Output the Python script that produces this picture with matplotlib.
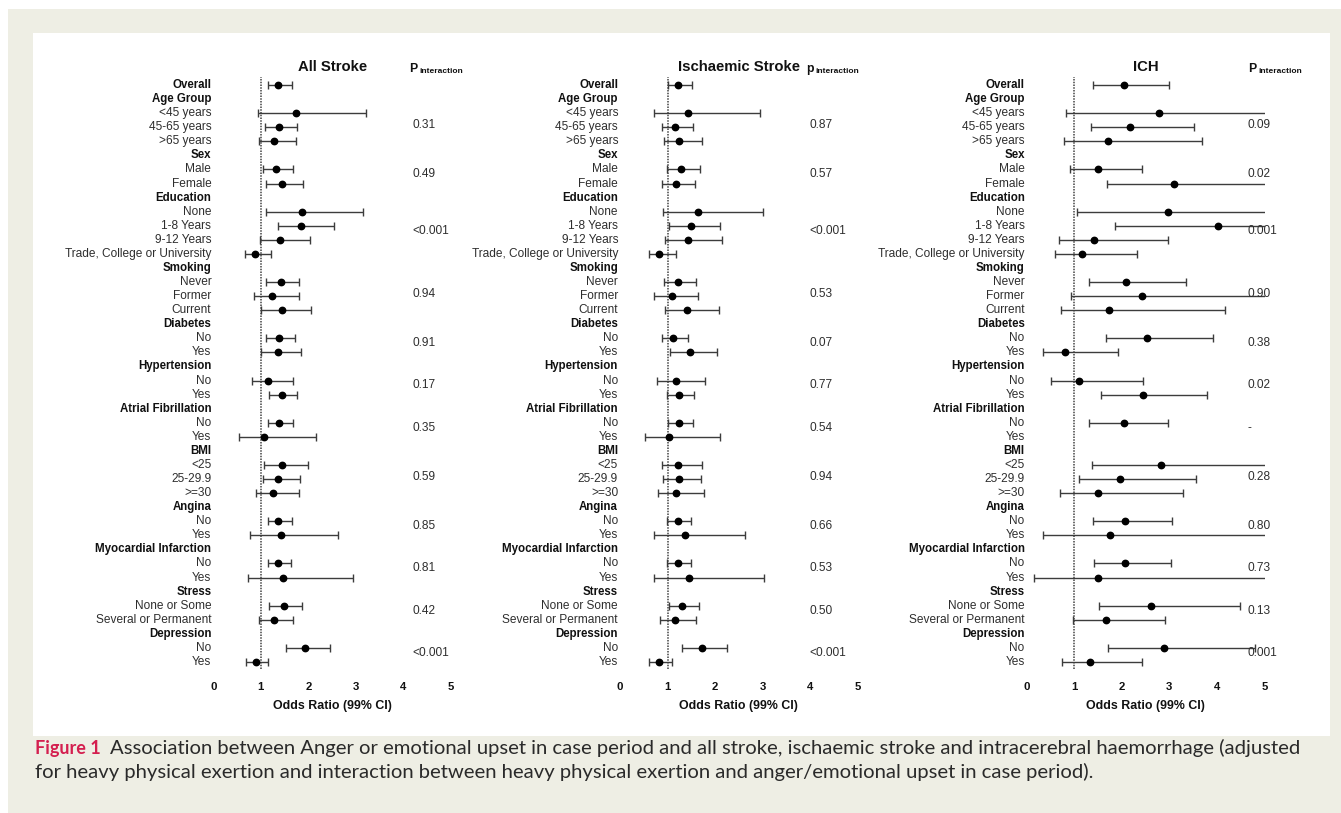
import numpy as np
import matplotlib
matplotlib.use("Agg")
import matplotlib.pyplot as plt
from matplotlib.patches import Rectangle
from matplotlib import transforms

nan = np.nan
inf = np.inf

# ---------------------------------------------------------------- data
row_labels = [
    "Overall",
    "Age Group", "<45 years", "45-65 years", ">65 years",
    "Sex", "Male", "Female",
    "Education", "None", "1-8 Years", "9-12 Years", "Trade, College or University",
    "Smoking", "Never", "Former", "Current",
    "Diabetes", "No", "Yes",
    "Hypertension", "No", "Yes",
    "Atrial Fibrillation", "No", "Yes",
    "BMI", "<25", "25-29.9", ">=30",
    "Angina", "No", "Yes",
    "Myocardial Infarction", "No", "Yes",
    "Stress", "None or Some", "Several or Permanent",
    "Depression", "No", "Yes",
]
bold_labels = ["Overall", "Age Group", "Sex", "Education", "Smoking", "Diabetes",
               "Hypertension", "Atrial Fibrillation", "BMI", "Angina",
               "Myocardial Infarction", "Stress", "Depression"]

panel_titles = ["All Stroke", "Ischaemic Stroke", "ICH"]
p_headers = ["P", "p", "P"]

# All stroke: odds ratio with 99% CI
all_or = [1.37, nan, 1.74, 1.38, 1.28, nan, 1.32, 1.45, nan, 1.87, 1.84, 1.41, 0.87,
          nan, 1.42, 1.23, 1.44, nan, 1.38, 1.36, nan, 1.16, 1.45, nan, 1.39, 1.06,
          nan, 1.45, 1.37, 1.25, nan, 1.37, 1.42, nan, 1.36, 1.47, nan, 1.48, 1.27,
          nan, 1.93, 0.90]
all_lo = [1.15, nan, 0.95, 1.09, 0.97, nan, 1.04, 1.10, nan, 1.10, 1.35, 0.99, 0.66,
          nan, 1.11, 0.85, 1.00, nan, 1.11, 1.01, nan, 0.82, 1.18, nan, 1.16, 0.54,
          nan, 1.07, 1.04, 0.89, nan, 1.15, 0.78, nan, 1.15, 0.73, nan, 1.18, 0.97,
          nan, 1.52, 0.68]
all_hi = [1.65, nan, 3.22, 1.76, 1.73, nan, 1.67, 1.89, nan, 3.15, 2.53, 2.04, 1.21,
          nan, 1.80, 1.80, 2.06, nan, 1.71, 1.85, nan, 1.67, 1.77, nan, 1.67, 2.15,
          nan, 1.99, 1.82, 1.80, nan, 1.65, 2.63, nan, 1.63, 2.94, nan, 1.86, 1.67,
          nan, 2.46, 1.16]

# Ischaemic stroke
isch_or = [1.23, nan, 1.44, 1.16, 1.25, nan, 1.28, 1.18, nan, 1.63, 1.49, 1.42, 0.83,
           nan, 1.21, 1.09, 1.40, nan, 1.11, 1.47, nan, 1.18, 1.24, nan, 1.24, 1.04,
           nan, 1.21, 1.24, 1.18, nan, 1.21, 1.37, nan, 1.21, 1.46, nan, 1.30, 1.16,
           nan, 1.72, 0.81]
isch_lo = [1.00, nan, 0.71, 0.89, 0.92, nan, 0.98, 0.89, nan, 0.90, 1.04, 0.95, 0.60,
           nan, 0.92, 0.72, 0.95, nan, 0.88, 1.06, nan, 0.78, 0.99, nan, 1.01, 0.53,
           nan, 0.88, 0.91, 0.80, nan, 0.99, 0.72, nan, 0.98, 0.71, nan, 1.02, 0.84,
           nan, 1.31, 0.60]
isch_hi = [1.51, nan, 2.94, 1.54, 1.72, nan, 1.69, 1.58, nan, 3.01, 2.11, 2.15, 1.18,
           nan, 1.60, 1.65, 2.08, nan, 1.42, 2.04, nan, 1.78, 1.56, nan, 1.53, 2.11,
           nan, 1.72, 1.70, 1.77, nan, 1.50, 2.63, nan, 1.49, 3.03, nan, 1.67, 1.60,
           nan, 2.25, 1.10]

# Intracerebral haemorrhage (inf = upper limit beyond the axis)
ich_or = [2.05, nan, 2.79, 2.18, 1.70, nan, 1.49, 3.09, nan, 2.98, 4.02, 1.41, 1.17,
          nan, 2.09, 2.42, 1.73, nan, 2.53, 0.80, nan, 1.11, 2.44, nan, 2.04, nan,
          nan, 2.82, 1.96, 1.50, nan, 2.07, 1.75, nan, 2.07, 1.50, nan, 2.62, 1.67,
          nan, 2.89, 1.34]
ich_lo = [1.40, nan, 0.82, 1.36, 0.78, nan, 0.91, 1.69, nan, 1.05, 1.85, 0.68, 0.60,
          nan, 1.31, 0.93, 0.73, nan, 1.66, 0.35, nan, 0.51, 1.57, nan, 1.31, nan,
          nan, 1.38, 1.10, 0.70, nan, 1.40, 0.35, nan, 1.41, 0.15, nan, 1.52, 0.98,
          nan, 1.71, 0.75]
ich_hi = [2.99, nan, inf, 3.51, 3.68, nan, 2.43, inf, nan, inf, inf, 2.98, 2.31,
          nan, 3.35, inf, 4.16, nan, 3.91, 1.91, nan, 2.45, 3.79, nan, 2.98, nan,
          nan, inf, 3.56, 3.28, nan, 3.05, inf, nan, 3.04, inf, nan, 4.49, 2.90,
          nan, 4.81, 2.43]

# p for interaction, one per grouping variable
p_all = ["0.31", "0.49", "<0.001", "0.94", "0.91", "0.17", "0.35", "0.59", "0.85",
         "0.81", "0.42", "<0.001"]
p_isch = ["0.87", "0.57", "<0.001", "0.53", "0.07", "0.77", "0.54", "0.94", "0.66",
          "0.53", "0.50", "<0.001"]
p_ich = ["0.09", "0.02", "0.001", "0.90", "0.38", "0.02", "-", "0.28", "0.80",
         "0.73", "0.13", "0.001"]

x_ticks = [0, 1, 2, 3, 4, 5]
x_label = "Odds Ratio (99% CI)"

caption_head = "Figure 1"
caption_line1 = ("Association between Anger or emotional upset in case period and all stroke, "
                 "ischaemic stroke and intracerebral haemorrhage (adjusted")
caption_line2 = ("for heavy physical exertion and interaction between heavy physical "
                 "exertion and anger/emotional upset in case period).")

# ---------------------------------------------------------------- layout
W, H, DPI = 1341, 813, 100
FONT = "Liberation Sans"
plt.rcParams["font.family"] = [FONT, "DejaVu Sans"]

fig = plt.figure(figsize=(W / DPI, H / DPI), dpi=DPI)
fig.patch.set_facecolor("white")


def fx(px):
    return px / W


def fy(py):
    return 1 - py / H


# page background and white plate
fig.patches.append(Rectangle((fx(8), 0), 1 - fx(8), fy(9), transform=fig.transFigure,
                             facecolor="#eeeee4", edgecolor="none", zorder=-10))
fig.patches.append(Rectangle((fx(33), fy(736)), fx(1330 - 33), (736 - 33) / H,
                             transform=fig.transFigure, facecolor="white",
                             edgecolor="none", zorder=-9))

axes_left_px = [213.3, 620.0, 1026.7]
axes_width_px = 237.8
axes_top_px, axes_bottom_px = 77.0, 669.0
p_col_x = [4.19, 3.99, 4.64]
p_head_x = [4.12, 3.91, 4.66]

n_rows = len(row_labels)
row_px = 14.07
ylim_top = -(85 - axes_top_px) / row_px
ylim_bot = (n_rows - 1) + (axes_bottom_px - 662) / row_px

header_rows = [i for i, lab in enumerate(row_labels) if lab in bold_labels and i > 0]
group_centres = []
for k, h in enumerate(header_rows):
    end = header_rows[k + 1] if k + 1 < len(header_rows) else n_rows
    members = list(range(h + 1, end))
    group_centres.append(np.mean(members) - 0.15)

panels = [(all_or, all_lo, all_hi, p_all),
          (isch_or, isch_lo, isch_hi, p_isch),
          (ich_or, ich_lo, ich_hi, p_ich)]

LINE_C = "#3c3c3c"
TEXT_C = "#2e2e2e"

for j, (est, lo, hi, pvals) in enumerate(panels):
    ax = fig.add_axes([fx(axes_left_px[j]), fy(axes_bottom_px),
                       fx(axes_width_px), (axes_bottom_px - axes_top_px) / H])
    ax.set_xlim(0, 5)
    ax.set_ylim(ylim_bot, ylim_top)
    for s in ax.spines.values():
        s.set_visible(False)
    ax.set_yticks([])
    ax.set_xticks(x_ticks)
    ax.set_xticklabels([str(t) for t in x_ticks], fontweight="bold", fontsize=8.2,
                       color="#111111")
    ax.tick_params(axis="x", length=0, pad=9)
    ax.set_xlabel(x_label, fontweight="bold", fontsize=8.9, color="#111111", labelpad=6)
    ax.patch.set_alpha(0)

    ax.axvline(1, color="#444444", lw=1.1, ls=(0, (1.0, 0.8)), zorder=1)

    est = np.asarray(est, float)
    lo = np.asarray(lo, float)
    hi = np.asarray(hi, float)
    for i in range(n_rows):
        if np.isnan(est[i]):
            continue
        right = min(hi[i], 5.0)
        ax.hlines(i, lo[i], right, color=LINE_C, lw=1.0, zorder=2)
        ends = [lo[i]] + ([hi[i]] if np.isfinite(hi[i]) else [])
        ax.plot(ends, [i] * len(ends), ls="none", marker="|", ms=6, mew=1.0,
                color=LINE_C, zorder=2)
        ax.plot(est[i], i, "o", ms=4.6, color="black", zorder=3)

    # row labels, right aligned at the left edge of the axis
    lab_tr = transforms.blended_transform_factory(ax.transAxes, ax.transData) + \
        transforms.ScaledTranslation(-2 / DPI, 0, fig.dpi_scale_trans)
    for i, lab in enumerate(row_labels):
        bold = lab in bold_labels
        ax.text(0, i, lab, transform=lab_tr, ha="right", va="center",
                fontsize=8.3 if bold else 8.6,
                fontweight="bold" if bold else "normal",
                color="#111111" if bold else TEXT_C, clip_on=False)

    # title and p-interaction header
    ax.text(2.5, ylim_top - (77 - 66.7) / row_px, panel_titles[j], ha="center",
            va="center", fontsize=10.7, fontweight="bold", color="#111111")
    ph = ax.text(p_head_x[j], ylim_top - (77 - 69.5) / row_px, p_headers[j],
                 ha="left", va="center", fontsize=8.8, fontweight="bold",
                 color="#111111")
    ax.annotate("interaction", xy=(1, 0.08), xycoords=ph, xytext=(1.5, 0),
                textcoords="offset points", ha="left", va="bottom", fontsize=6.0,
                fontweight="bold", color="#111111")

    for yc, pv in zip(group_centres, pvals):
        ax.text(p_col_x[j], yc, pv, ha="left", va="center", fontsize=8.6,
                color=TEXT_C)

# caption
CAP_FONT = ["Lato", "DejaVu Sans"]
head = fig.text(fx(35), fy(748), caption_head, ha="left", va="center", fontsize=13,
                fontweight="bold", color="#d41f4f", family=CAP_FONT)
fig.text(0, 0, "")
plt.annotate(caption_line1, xy=(1, 0.5), xycoords=head, xytext=(7, 0),
             textcoords="offset points", ha="left", va="center", fontsize=14.6,
             color="#2a2a2a", family=CAP_FONT, annotation_clip=False)
fig.text(fx(35), fy(772), caption_line2, ha="left", va="center", fontsize=14.6,
         color="#2a2a2a", family=CAP_FONT)

fig.savefig("out.png", dpi=DPI, facecolor=fig.get_facecolor())
